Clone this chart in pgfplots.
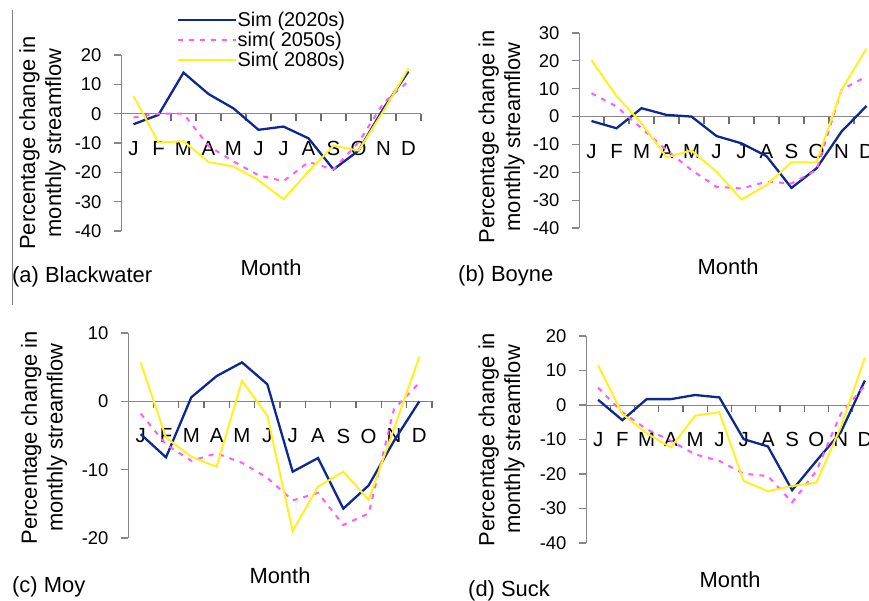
\documentclass[border=0pt]{standalone}
\usepackage{fontspec}
\setmainfont{Liberation Sans}
\usepackage{pgfplots}
\usepackage{pgfplotstable}
\pgfplotsset{compat=1.18}
\definecolor{cblue}{RGB}{14,40,145}
\definecolor{cpink}{RGB}{255,90,255}
\definecolor{cyell}{RGB}{255,240,30}
\definecolor{axgray}{RGB}{135,135,135}

\pgfplotstableread{
m b p y
0 -3.6 -1.3 6
1 -0.4 0 -9.8
2 14 0 -9.4
3 6.7 -11 -16.5
4 1.8 -16.3 -18
5 -5.5 -21 -22.7
6 -4.4 -23 -29.2
7 -8.4 -16.5 -19.7
8 -19 -19 -10.9
9 -12.6 -9.8 -12.6
10 1.8 3.7 0.9
11 14.4 11 15.5
}\tabA
\pgfplotstableread{
m b p y
0 -1.6 8.4 20.2
1 -4.2 3.6 7.4
2 3 -4.2 -2.4
3 0.6 -12 -14.6
4 0 -19.2 -12.2
5 -7 -25.2 -19.8
6 -9.6 -25.8 -29.8
7 -14.2 -23.4 -24.6
8 -25.6 -24 -16.4
9 -18.6 -19.2 -16.4
10 -5.4 9.6 9.6
11 3.8 14.4 24.4
}\tabB
\pgfplotstableread{
m b p y
0 -4.8 -1.8 5.7
1 -8.2 -6.3 -5.3
2 0.6 -8.7 -8.1
3 3.7 -7.6 -9.6
4 5.7 -9 3
5 2.5 -11.2 -2.1
6 -10.3 -14.5 -19
7 -8.3 -13.4 -12.5
8 -15.7 -18.1 -10.3
9 -12.3 -16.4 -14.4
10 -5.8 -1.1 -4
11 0 2.7 6.5
}\tabC
\pgfplotstableread{
m b p y
0 1.5 5 11.5
1 -4.4 -2.1 -2.6
2 1.7 -7 -8.2
3 1.7 -10.4 -12.3
4 2.9 -14.3 -3.1
5 2.2 -16.2 -2.1
6 -9.9 -19.9 -22
7 -12 -20.6 -25
8 -24.7 -28.2 -23.5
9 -16.2 -19.1 -22.5
10 -8 -2.6 -6.5
11 7.1 5.6 13.7
}\tabD

\pgfplotsset{
  panel/.style={
    scale only axis, anchor=south west,
    xmin=-0.5, xmax=11.5,
    axis x line=middle, axis y line=left,
    axis line style={-, draw=axgray, line width=1bp},
    xtick={0,1,2,3,4,5,6,7,8,9,10,11},
    xticklabels={J,F,M,A,M,J,J,A,S,O,N,D},
    x tick style={draw=none},
    xticklabel style={yshift=-17bp, font=\fontsize{20.5}{24}\selectfont},
    y tick style={draw=axgray, line width=1.2bp},
    tick align=outside, major tick length=7bp,
    ytick pos=left,
    yticklabel style={xshift=-9bp, font=\fontsize{18.5}{22}\selectfont},
    /pgf/number format/assume math mode=true,
    label style={font=\fontsize{22}{26}\selectfont},
    ylabel={Percentage change in\\monthly streamflow},
    xlabel={Month},
    clip=false,
  },
  s1/.style={cblue, line width=2.3bp, no markers},
  s2/.style={cpink, line width=2bp, dash pattern=on 5bp off 6bp, no markers},
  s3/.style={cyell, line width=2bp, no markers},
}
\newcommand{\mticks}[1]{\pgfplotsinvokeforeach{0.5,1.5,2.5,3.5,4.5,5.5,6.5,7.5,8.5,9.5,10.5,11.5}{\draw[draw={rgb,255:red,110;green,110;blue,110}, line width=1.3bp] (axis cs:##1,0) -- (axis cs:##1,#1);}}

\begin{document}
\begin{tikzpicture}
\useasboundingbox (0,0) rectangle (869bp,601bp);
\draw[gray, line width=1bp] (12bp,296bp) -- (12bp,591bp);

% (a)
\begin{axis}[panel, at={(121bp,370bp)}, width=300bp, height=176bp,
  ymin=-40, ymax=20, ytick={-40,-30,...,20},
  ylabel style={at={(axis description cs:-0.262,0.5)}, anchor=center, align=center},
  xlabel style={at={(axis description cs:0.5,0)}, anchor=center, yshift=-37bp},
  legend style={at={(axis description cs:0.174,1.262)}, anchor=north west, draw=none, fill=none,
    font=\fontsize{20}{24}\selectfont, nodes={inner sep=1bp}, row sep=2bp},
  legend cell align=left,
  legend image code/.code={\path (0bp,0bp) -- (58bp,0bp); \draw[#1] (0bp,0bp) -- (54bp,0bp);},
]
\mticks{-2.4}
\addplot[s1] table[x=m,y=b]{\tabA};
\addplot[s2] table[x=m,y=p]{\tabA};
\addplot[s3] table[x=m,y=y]{\tabA};
\legend{Sim (2020s),sim( 2050s),Sim( 2080s)}
\end{axis}

% (b)
\begin{axis}[panel, at={(579bp,373bp)}, width=300bp, height=195bp,
  ymin=-40, ymax=30, ytick={-40,-30,...,30},
  ylabel style={at={(axis description cs:-0.258,0.467)}, anchor=center, align=center},
  xlabel style={at={(axis description cs:0.497,0)}, anchor=center, yshift=-39bp},
]
\mticks{-2.5}
\addplot[s1] table[x=m,y=b]{\tabB};
\addplot[s2] table[x=m,y=p]{\tabB};
\addplot[s3] table[x=m,y=y]{\tabB};
\end{axis}

% (c)
\begin{axis}[panel, at={(128bp,63bp)}, width=304bp, height=205bp,
  ymin=-20, ymax=10, ytick={-20,-10,0,10},
  ylabel style={at={(axis description cs:-0.276,0.49)}, anchor=center, align=center},
  xlabel style={at={(axis description cs:0.5,0)}, anchor=center, yshift=-38bp},
]
\mticks{-1.0}
\addplot[s1] table[x=m,y=b]{\tabC};
\addplot[s2] table[x=m,y=p]{\tabC};
\addplot[s3] table[x=m,y=y]{\tabC};
\end{axis}

% (d)
\begin{axis}[panel, at={(586bp,58bp)}, width=291bp, height=207bp,
  ymin=-40, ymax=20, ytick={-40,-30,...,20},
  ylabel style={at={(axis description cs:-0.29,0.5)}, anchor=center, align=center},
  xlabel style={at={(axis description cs:0.495,0)}, anchor=center, yshift=-37bp},
]
\mticks{-2.0}
\addplot[s1] table[x=m,y=b]{\tabD};
\addplot[s2] table[x=m,y=p]{\tabD};
\addplot[s3] table[x=m,y=y]{\tabD};
\end{axis}

\begin{scope}[every node/.style={inner sep=0pt, font=\fontsize{22}{26}\selectfont}]
\node[anchor=base west] at (12bp,318bp) {(a) Blackwater};
\node[anchor=base west] at (458bp,319bp) {(b) Boyne};
\node[anchor=base west] at (12bp,9bp) {(c) Moy};
\node[anchor=base west] at (468bp,5bp) {(d) Suck};
\end{scope}
\end{tikzpicture}
\end{document}
